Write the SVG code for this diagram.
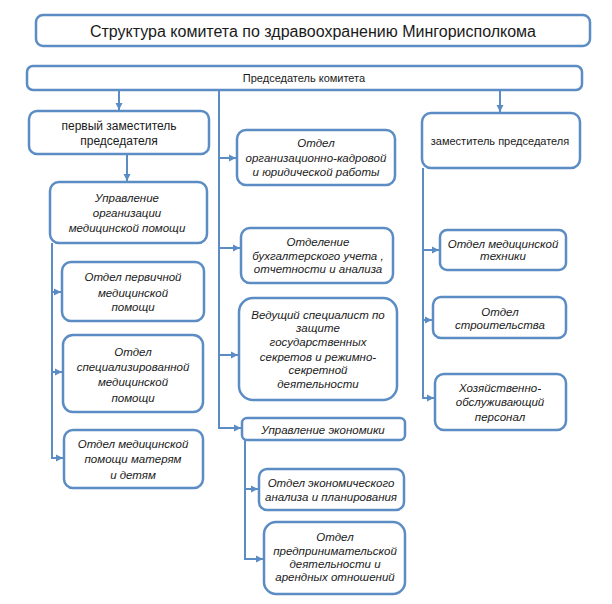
<svg xmlns="http://www.w3.org/2000/svg" width="612" height="604" viewBox="0 0 612 604">
<style>
.box{fill:#fff;stroke:#5b8cc4;stroke-width:2.5}
.t{font-family:"Liberation Sans",Arial,sans-serif;font-size:11.5px;font-style:italic;fill:#1a1a1a;text-anchor:middle}
.n{font-family:"Liberation Sans",Arial,sans-serif;fill:#1a1a1a;text-anchor:middle}
.c{fill:none;stroke:#5b8cc4;stroke-width:2}
</style>
<defs>
<marker id="ar" markerUnits="userSpaceOnUse" markerWidth="8" markerHeight="8" refX="7" refY="4" orient="auto">
<path d="M0,0.5 L7,4 L0,7.5 z" fill="#5b8cc4"/>
</marker>
</defs>
<rect width="612" height="604" fill="#fff"/>
<g id="connectors">
<line class="c" x1="119" y1="90" x2="119" y2="110" marker-end="url(#ar)"/>
<line class="c" x1="500" y1="90" x2="500" y2="112" marker-end="url(#ar)"/>
<polyline class="c" points="219,90 219,428"/>
<line class="c" x1="219" y1="158" x2="236" y2="158" marker-end="url(#ar)"/>
<line class="c" x1="219" y1="248" x2="240" y2="248" marker-end="url(#ar)"/>
<line class="c" x1="219" y1="355" x2="238" y2="355" marker-end="url(#ar)"/>
<line class="c" x1="218" y1="428" x2="241" y2="428" marker-end="url(#ar)"/>
<line class="c" x1="127" y1="154" x2="127" y2="181" marker-end="url(#ar)"/>
<polyline class="c" points="52,243 52,458"/>
<line class="c" x1="52" y1="292" x2="61" y2="292" marker-end="url(#ar)"/>
<line class="c" x1="52" y1="372" x2="62" y2="372" marker-end="url(#ar)"/>
<line class="c" x1="51" y1="458" x2="63" y2="458" marker-end="url(#ar)"/>
<polyline class="c" points="245,440 245,559"/>
<line class="c" x1="245" y1="489" x2="258" y2="489" marker-end="url(#ar)"/>
<line class="c" x1="244" y1="559" x2="263" y2="559" marker-end="url(#ar)"/>
<polyline class="c" points="423,168 423,398"/>
<line class="c" x1="423" y1="250" x2="439" y2="250" marker-end="url(#ar)"/>
<line class="c" x1="423" y1="320" x2="432" y2="320" marker-end="url(#ar)"/>
<line class="c" x1="422" y1="398" x2="434" y2="398" marker-end="url(#ar)"/>
</g>
<g id="title">
<rect class="box" x="36" y="15" width="554" height="31" rx="7"/>
<text class="n" x="313" y="37" font-size="16">Структура комитета по здравоохранению  Мингорисполкома</text>
</g>
<g id="chairman">
<rect class="box" x="27" y="66" width="555" height="24" rx="6"/>
<text class="n" x="304" y="82" font-size="11">Председатель комитета</text>
</g>
<g id="first-deputy">
<rect class="box" x="29" y="111" width="180" height="43" rx="8"/>
<text class="n" x="119" y="130" font-size="12">первый заместитель</text>
<text class="n" x="119" y="145" font-size="12">председателя</text>
</g>
<g id="upr-med">
<rect class="box" x="50" y="182" width="157" height="61" rx="9"/>
<text class="t" x="127" y="202">Управление</text>
<text class="t" x="127" y="217">организации</text>
<text class="t" x="127" y="232">медицинской помощи</text>
</g>
<g id="otd-perv">
<rect class="box" x="62" y="262" width="142" height="59" rx="9"/>
<text class="t" x="133" y="281">Отдел первичной</text>
<text class="t" x="133" y="297">медицинской</text>
<text class="t" x="133" y="311">помощи</text>
</g>
<g id="otd-spec">
<rect class="box" x="63" y="335" width="140" height="77" rx="10"/>
<text class="t" x="133" y="356">Отдел</text>
<text class="t" x="133" y="371">специализированной</text>
<text class="t" x="133" y="386">медицинской</text>
<text class="t" x="133" y="402">помощи</text>
</g>
<g id="otd-mat">
<rect class="box" x="64" y="430" width="139" height="58" rx="9"/>
<text class="t" x="133" y="448">Отдел медицинской</text>
<text class="t" x="133" y="463">помощи матерям</text>
<text class="t" x="133" y="479">и детям</text>
</g>
<g id="otd-org">
<rect class="box" x="237" y="130" width="158" height="55" rx="9"/>
<text class="t" x="316" y="147">Отдел</text>
<text class="t" x="316" y="162">организационно-кадровой</text>
<text class="t" x="316" y="176">и юридической работы</text>
</g>
<g id="otd-buh">
<rect class="box" x="241" y="228" width="152" height="55" rx="9"/>
<text class="t" x="318" y="246">Отделение</text>
<text class="t" x="318" y="260">бухгалтерского учета ,</text>
<text class="t" x="318" y="273">отчетности и анализа</text>
</g>
<g id="ved-spec">
<rect class="box" x="239" y="298" width="158" height="102" rx="14"/>
<text class="t" x="318" y="319">Ведущий специалист  по</text>
<text class="t" x="318" y="332">защите</text>
<text class="t" x="318" y="346">государственных</text>
<text class="t" x="318" y="361">секретов и режимно-</text>
<text class="t" x="318" y="374">секретной</text>
<text class="t" x="318" y="388">деятельности</text>
</g>
<g id="upr-econ">
<rect class="box" x="242" y="418" width="163" height="22" rx="5"/>
<text class="t" x="323" y="434">Управление экономики</text>
</g>
<g id="otd-econ">
<rect class="box" x="259" y="469" width="145" height="41" rx="8"/>
<text class="t" x="331" y="487">Отдел экономического</text>
<text class="t" x="331" y="501">анализа и планирования</text>
</g>
<g id="otd-pred">
<rect class="box" x="264" y="522" width="141" height="72" rx="12"/>
<text class="t" x="335" y="541">Отдел</text>
<text class="t" x="335" y="555">предпринимательской</text>
<text class="t" x="335" y="568">деятельности и</text>
<text class="t" x="335" y="581">арендных отношений</text>
</g>
<g id="deputy">
<rect class="box" x="422" y="113" width="158" height="55" rx="9"/>
<text class="n" x="500" y="145" font-size="11">заместитель председателя</text>
</g>
<g id="otd-tech">
<rect class="box" x="440" y="230" width="126" height="40" rx="7"/>
<text class="t" x="503" y="248">Отдел медицинской</text>
<text class="t" x="503" y="260">техники</text>
</g>
<g id="otd-str">
<rect class="box" x="433" y="297" width="133" height="41" rx="8"/>
<text class="t" x="500" y="316">Отдел</text>
<text class="t" x="500" y="329">строительства</text>
</g>
<g id="hoz">
<rect class="box" x="435" y="374" width="131" height="56" rx="9"/>
<text class="t" x="500" y="392">Хозяйственно-</text>
<text class="t" x="500" y="406">обслуживающий</text>
<text class="t" x="500" y="421">персонал</text>
</g>
</svg>
